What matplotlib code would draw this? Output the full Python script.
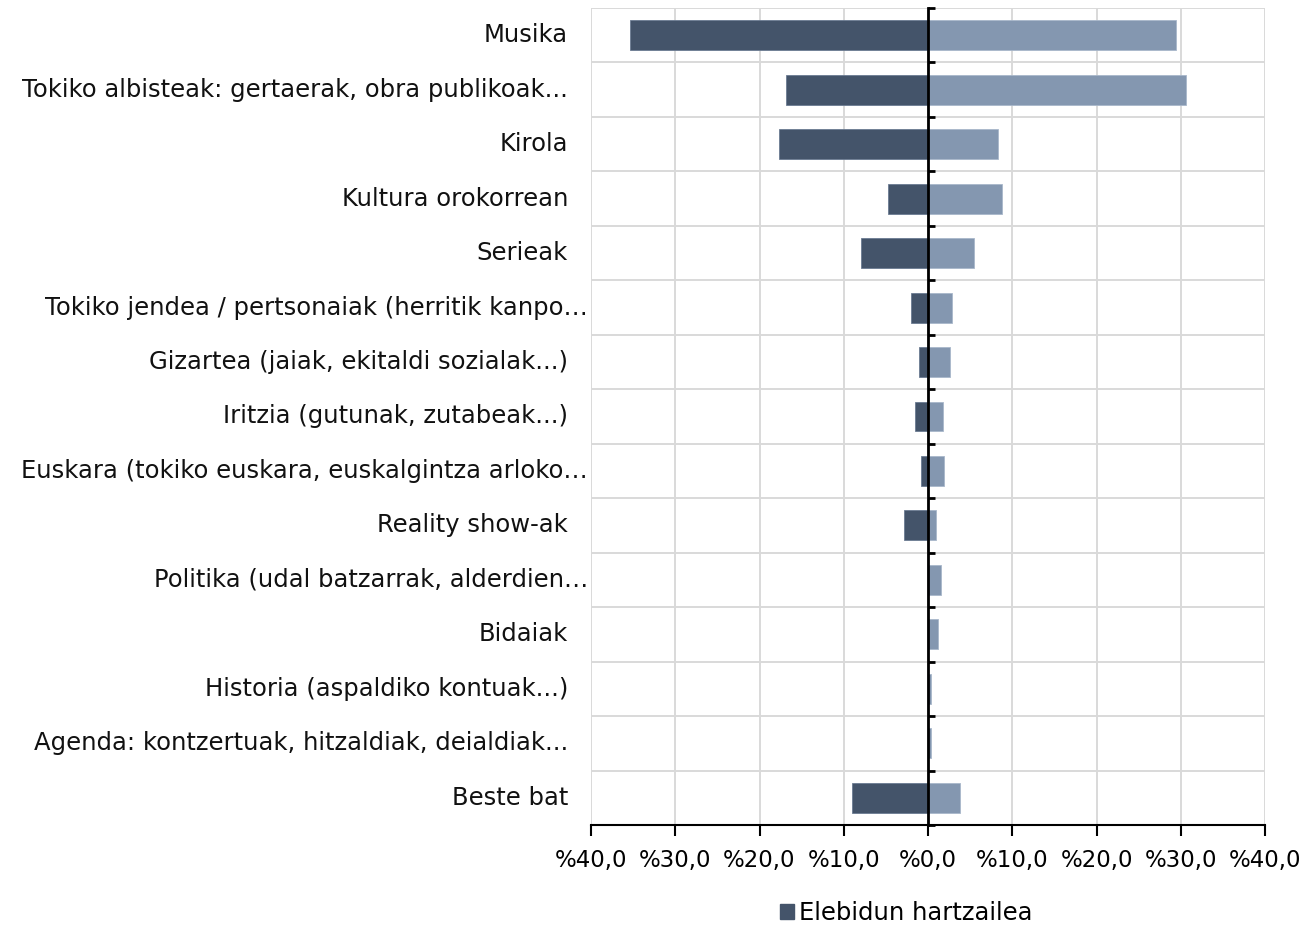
import matplotlib
matplotlib.use("Agg")
import matplotlib.pyplot as plt
import matplotlib.patches as patches

categories = ["Musika",
              "Tokiko albisteak: gertaerak, obra publikoak...",
              "Kirola",
              "Kultura orokorrean",
              "Serieak",
              "Tokiko jendea / pertsonaiak (herritik kanpo…",
              "Gizartea (jaiak, ekitaldi sozialak...)",
              "Iritzia (gutunak, zutabeak...)",
              "Euskara (tokiko euskara, euskalgintza arloko…",
              "Reality show-ak",
              "Politika (udal batzarrak, alderdien…",
              "Bidaiak",
              "Historia (aspaldiko kontuak...)",
              "Agenda: kontzertuak, hitzaldiak, deialdiak...",
              "Beste bat"]

# left side (negative), shown in legend
elebidun = [-35.4, -16.9, -17.7, -4.7, -8.0, -2.0, -1.1, -1.5, -0.8, -2.8, 0.0, 0.0, 0.0, 0.0, -9.0]
# right side
beste_hartzailea = [29.4, 30.6, 8.3, 8.8, 5.5, 2.9, 2.6, 1.8, 1.9, 1.0, 1.6, 1.2, 0.3, 0.3, 3.8]

xticks = [-40, -30, -20, -10, 0, 10, 20, 30, 40]
legend_label = "Elebidun hartzailea"

c_dark = '#44546A'
c_light = '#8497B0'
fs = 17.5

fig = plt.figure(figsize=(13.09, 9.25), dpi=100)
ax = fig.add_axes([591/1309, 1-825/925, 674/1309, 817/925])

ypos = list(range(len(categories)))
ax.barh(ypos, elebidun, height=0.55, color=c_dark, edgecolor='#6b7b92', linewidth=0.6, zorder=3)
ax.barh(ypos, beste_hartzailea, height=0.55, color=c_light, edgecolor='#a9b7ca', linewidth=0.6, zorder=3)

ax.set_xlim(-40, 40)
ax.set_ylim(len(categories)-0.5, -0.5)

ax.set_xticks(xticks)
ax.set_xticklabels(['%' + ('%.1f' % abs(t)).replace('.', ',') for t in xticks], fontsize=16.5)
ax.tick_params(axis='x', direction='out', length=8, width=1.5, pad=9, color='black')

bounds = [i - 0.5 for i in range(len(categories)+1)]
ax.set_yticks(bounds)
ax.set_yticklabels([])
ax.tick_params(axis='y', direction='in', length=5, width=2, color='black')

ax.spines['left'].set_position(('data', 0))
ax.spines['left'].set_linewidth(2)
ax.spines['left'].set_zorder(4)
ax.spines['bottom'].set_linewidth(1.5)
ax.spines['top'].set_visible(False)
ax.spines['right'].set_visible(False)

ax.grid(True, color='#D9D9D9', linewidth=1.4, zorder=0)
ax.set_axisbelow(True)

# category labels, those cut with an ellipsis sit closer to the plot
for i, lab in enumerate(categories):
    if lab.endswith('…'):
        xo = -3/674
    else:
        xo = -23/674
    ax.text(xo, i, lab, transform=ax.get_yaxis_transform(), ha='right', va='center',
            fontsize=fs, color='#111111')

h = patches.Patch(facecolor=c_dark, edgecolor=c_dark)
fig.legend([h], [legend_label], loc='center', bbox_to_anchor=(906/1309, 1-913/925),
           frameon=False, fontsize=fs, handlelength=0.6, handleheight=0.6, handletextpad=0.2)

fig.savefig('out.png', dpi=100)
